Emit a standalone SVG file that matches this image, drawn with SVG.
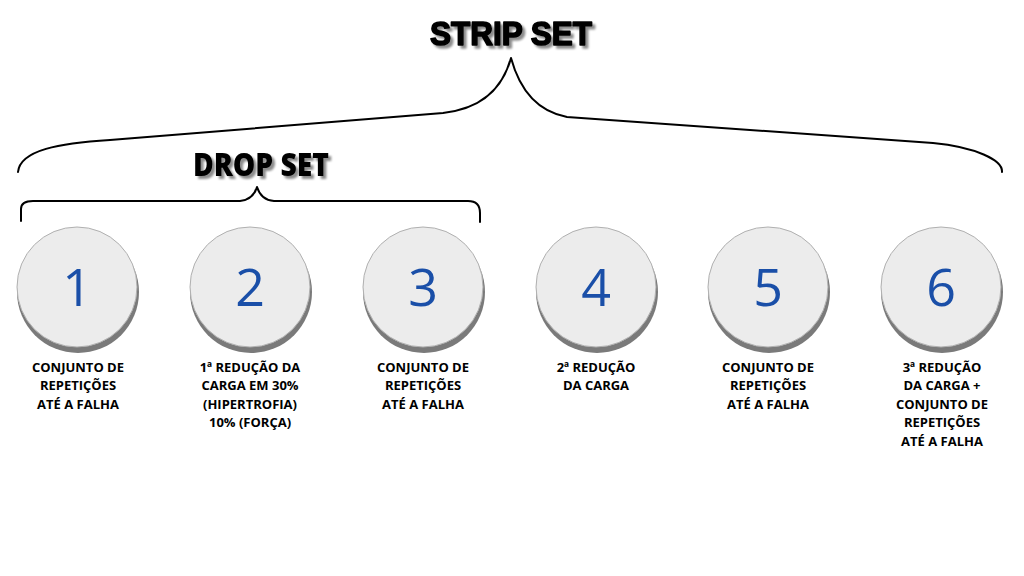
<svg xmlns="http://www.w3.org/2000/svg" width="1024" height="576" viewBox="0 0 1024 576">
<defs>
<filter id="tshadow" x="-10%" y="-20%" width="130%" height="160%">
<feGaussianBlur in="SourceAlpha" stdDeviation="1.2"/>
<feOffset dx="3" dy="3" result="b"/>
<feFlood flood-color="#000" flood-opacity="0.45"/>
<feComposite in2="b" operator="in"/>
<feMerge><feMergeNode/><feMergeNode in="SourceGraphic"/></feMerge>
</filter>
</defs>
<style>
.title{font-family:"Liberation Sans",Arial,sans-serif;font-weight:900;fill:#000;stroke:#000;stroke-width:1.6;stroke-linejoin:round;text-anchor:middle}
.sub{font-family:"Open Sans","Liberation Sans",sans-serif;font-weight:800;fill:#000;text-anchor:middle}
.brace{fill:none;stroke:#000;stroke-width:2;stroke-linecap:round;stroke-linejoin:round}
.shadow{fill:#7a7a7a}
.disc{fill:#ececec;stroke:#b0b0b0;stroke-width:1}
.num{font-family:"Open Sans","Liberation Sans",sans-serif;font-size:52px;fill:#1a4fa8;text-anchor:middle}
.lbl{font-family:"Open Sans","Liberation Sans",sans-serif;font-weight:700;font-size:13px;fill:#000;text-anchor:middle}
</style>
<rect width="1024" height="576" fill="#fff"/>
<g id="title-strip" filter="url(#tshadow)">
<text class="title" x="511" y="45" font-size="33" textLength="162" lengthAdjust="spacingAndGlyphs">STRIP SET</text>
</g>
<g id="title-drop" filter="url(#tshadow)">
<text class="sub" x="261" y="176" font-size="31" textLength="136" lengthAdjust="spacingAndGlyphs">DROP SET</text>
</g>
<g id="connectors">
<path class="brace" d="M18 172 C20 150 60 143 110 140 L443 113 C490 108 505 80 511 58 C517 80 530 110 567 117 L933 143 C975 147 1003 160 1002 172"/>
<path class="brace" d="M21 221 L21 209 Q21 201 33 201 L240 201 Q253 200 257 187 Q261 200 274 201 L468 201 Q480 201 480 213 L480 222" stroke-width="2.2"/>
</g>
<g id="node1">
<circle class="shadow" cx="78" cy="292" r="61"/>
<circle class="disc" cx="77" cy="287" r="60"/>
<text class="num" x="77" y="306">1</text>
<text class="lbl" x="78" y="372">CONJUNTO DE</text>
<text class="lbl" x="78" y="390">REPETIÇÕES</text>
<text class="lbl" x="78" y="409">ATÉ A FALHA</text>
</g>
<g id="node2">
<circle class="shadow" cx="251" cy="292" r="61"/>
<circle class="disc" cx="250" cy="287" r="60"/>
<text class="num" x="250" y="306">2</text>
<text class="lbl" x="250" y="372">1ª REDUÇÃO DA</text>
<text class="lbl" x="250" y="390">CARGA EM 30%</text>
<text class="lbl" x="250" y="409">(HIPERTROFIA)</text>
<text class="lbl" x="250" y="427">10% (FORÇA)</text>
</g>
<g id="node3">
<circle class="shadow" cx="424" cy="292" r="61"/>
<circle class="disc" cx="423" cy="287" r="60"/>
<text class="num" x="423" y="306">3</text>
<text class="lbl" x="423" y="372">CONJUNTO DE</text>
<text class="lbl" x="423" y="390">REPETIÇÕES</text>
<text class="lbl" x="423" y="409">ATÉ A FALHA</text>
</g>
<g id="node4">
<circle class="shadow" cx="597" cy="292" r="61"/>
<circle class="disc" cx="596" cy="287" r="60"/>
<text class="num" x="596" y="306">4</text>
<text class="lbl" x="596" y="372">2ª REDUÇÃO</text>
<text class="lbl" x="596" y="390">DA CARGA</text>
</g>
<g id="node5">
<circle class="shadow" cx="769" cy="292" r="61"/>
<circle class="disc" cx="768" cy="287" r="60"/>
<text class="num" x="768" y="306">5</text>
<text class="lbl" x="768" y="372">CONJUNTO DE</text>
<text class="lbl" x="768" y="390">REPETIÇÕES</text>
<text class="lbl" x="768" y="409">ATÉ A FALHA</text>
</g>
<g id="node6">
<circle class="shadow" cx="942" cy="292" r="61"/>
<circle class="disc" cx="941" cy="287" r="60"/>
<text class="num" x="941" y="306">6</text>
<text class="lbl" x="942" y="372">3ª REDUÇÃO</text>
<text class="lbl" x="942" y="390">DA CARGA +</text>
<text class="lbl" x="942" y="409">CONJUNTO DE</text>
<text class="lbl" x="942" y="427">REPETIÇÕES</text>
<text class="lbl" x="942" y="446">ATÉ A FALHA</text>
</g>
</svg>
